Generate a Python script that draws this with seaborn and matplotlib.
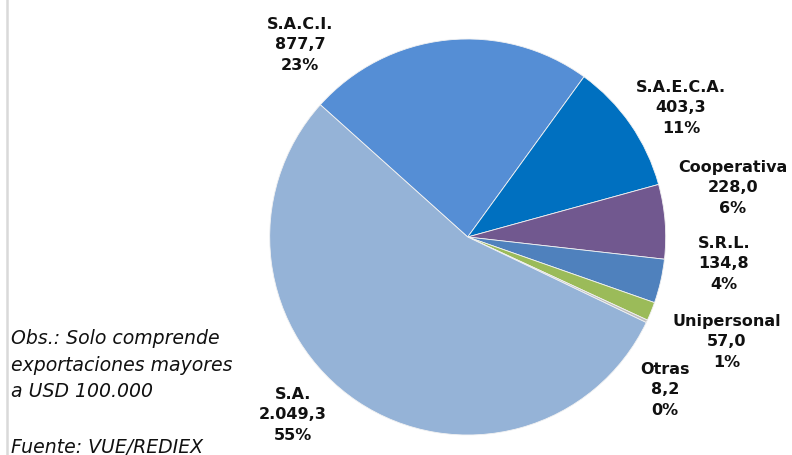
import matplotlib
matplotlib.use("Agg")
import matplotlib.pyplot as plt
import seaborn as sns
from matplotlib.lines import Line2D

# ---- data ----
categories = ["S.A.C.I.", "S.A.E.C.A.", "Cooperativa", "S.R.L.", "Unipersonal", "Otras", "S.A."]
values = [877.7, 403.3, 228.0, 134.8, 57.0, 8.2, 2049.3]
pct_labels = ["23%", "11%", "6%", "4%", "1%", "0%", "55%"]
colors = ["#558ED5", "#0070C0", "#71588F", "#4F81BD", "#9BBB59", "#BFBFBF", "#95B3D7"]
note_lines = ["Obs.: Solo comprende", "exportaciones mayores", "a USD 100.000"]
source_text = "Fuente: VUE/REDIEX"

# ---- layout (pixel positions of label centres) ----
label_px = [(300, 45), (681, 108), (733, 188), (724, 264), (727, 342), (665, 390), (293, 415)]

sns.set_theme(style="white")
plt.rcParams["font.family"] = ["DejaVu Sans"]

W, H = 792, 456
fig = plt.figure(figsize=(W / 100, H / 100), dpi=100)
ax = fig.add_axes([0, 0, 1, 1])

cx, cy, R = 467.7, 238.0, 198.0

ax.pie(values, colors=colors, startangle=138.1, counterclock=False, radius=1.0,
       center=(0, 0), frame=True,
       wedgeprops=dict(edgecolor="#F2F2F2", linewidth=0.6))
ax.set_xlim((0 - cx) / R, (W - cx) / R)
ax.set_ylim((cy - H) / R, (cy - 0) / R)
ax.set_aspect("auto")
ax.axis("off")


def fmt(v):
    s = f"{v:,.1f}"
    return s.replace(",", "X").replace(".", ",").replace("X", ".")


for name, v, p, (px, py) in zip(categories, values, pct_labels, label_px):
    ax.text((px - cx) / R, (cy - py) / R, f"{name}\n{fmt(v)}\n{p}",
            ha="center", va="center", fontsize=11.5, fontweight="bold",
            color="#111111", linespacing=1.45)

for i, line in enumerate(note_lines):
    fig.text(11 / W, 1 - (339 + 26.5 * i) / H, line, ha="left", va="center",
             fontsize=13.6, fontstyle="italic", color="#111111")
fig.text(11 / W, 1 - 448 / H, source_text, ha="left", va="center",
         fontsize=13.6, fontstyle="italic", color="#111111")

fig.add_artist(Line2D([6.5 / W, 6.5 / W], [0, 1], transform=fig.transFigure,
                      color="#D9D9D9", linewidth=1.8))

fig.savefig("out.png", dpi=100)
